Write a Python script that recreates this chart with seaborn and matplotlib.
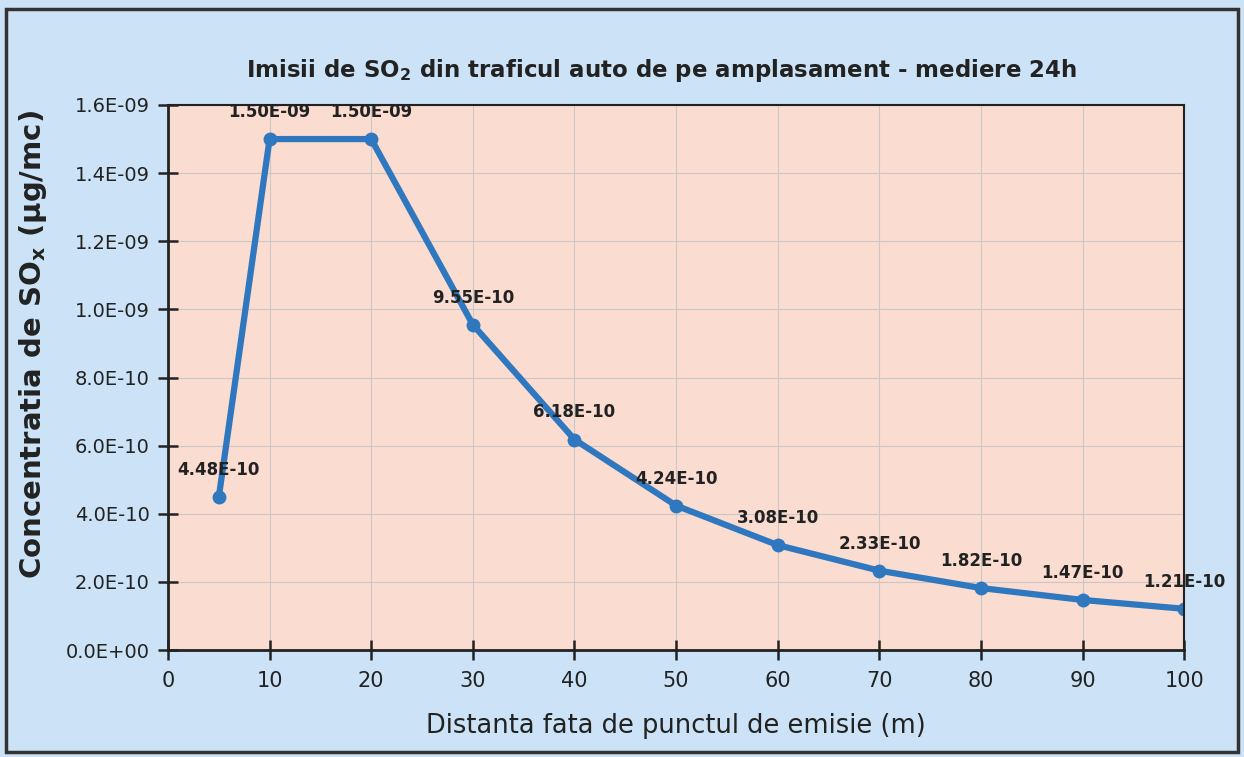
import matplotlib.pyplot as plt
import matplotlib.patches as patches
from matplotlib.ticker import FuncFormatter, MultipleLocator
import seaborn as sns
import pandas as pd

# Distante si concentratii
distanta = [5, 10, 20, 30, 40, 50, 60, 70, 80, 90, 100]
concentratie = [4.48e-10, 1.50e-09, 1.50e-09, 9.55e-10, 6.18e-10, 4.24e-10,
                3.08e-10, 2.33e-10, 1.82e-10, 1.47e-10, 1.21e-10]
x_ticks = [0, 10, 20, 30, 40, 50, 60, 70, 80, 90, 100]

df = pd.DataFrame({"distanta": distanta, "conc": concentratie})

sns.set_theme(style="whitegrid")
plt.rcParams['font.family'] = ['DejaVu Sans']

fig = plt.figure(figsize=(12.44, 7.57), dpi=100)
fig.patch.set_facecolor("#cce3f7")
ax = fig.add_axes([0.135, 0.1413, 0.817, 0.72])
ax.set_facecolor("#fbdcd0")

sns.lineplot(data=df, x="distanta", y="conc", ax=ax, color="#2f78bf",
             linewidth=4.5, marker="o", markersize=10, markeredgewidth=0)

# etichete de valori
for xv, yv in zip(distanta, concentratie):
    ax.annotate(f"{yv:.2E}", (xv, yv), xytext=(0, 13), textcoords="offset points",
                ha="center", va="bottom", fontsize=12, fontweight="bold", color="#222222")

ax.set_xlim(0, 100)
ax.set_ylim(0, 1.6e-9)
ax.set_xticks(x_ticks)
ax.yaxis.set_major_locator(MultipleLocator(2e-10))
ax.yaxis.set_major_formatter(FuncFormatter(lambda v, p: f"{v:.1E}"))

ax.grid(True, color="#c8c8c8", linewidth=0.8)
for s in ["left", "bottom"]:
    ax.spines[s].set_color("#222222")
    ax.spines[s].set_linewidth(2)
for s in ["top", "right"]:
    ax.spines[s].set_color("#222222")
    ax.spines[s].set_linewidth(1.5)
ax.tick_params(axis="both", direction="inout", length=14, width=1.8, color="#222222",
               bottom=True, left=True)
ax.tick_params(axis="x", labelsize=15, pad=8, labelcolor="#222222")
ax.tick_params(axis="y", labelsize=14, pad=6, labelcolor="#222222")

ax.set_xlabel("Distanta fata de punctul de emisie (m)", fontsize=18.5, labelpad=16, color="#222222")
ax.set_ylabel(r"Concentratia de SO$_\mathbf{x}$ ($\mathbf{\mu}$g/mc)", fontsize=21,
              fontweight="bold", color="#222222")
ax.yaxis.set_label_coords(-0.117, 0.56)
fig.text(0.532, 0.907, r"Imisii de SO$_\mathbf{2}$ din traficul auto de pe amplasament - mediere 24h",
         ha="center", va="center", fontsize=16.5, fontweight="bold", color="#222222")

# chenarul exterior
fig.patches.append(patches.Rectangle((0.005, 0.006), 0.99, 0.982, transform=fig.transFigure,
                                     fill=False, edgecolor="#333333", linewidth=2.5))

fig.savefig("out.png", dpi=100, facecolor=fig.get_facecolor())
